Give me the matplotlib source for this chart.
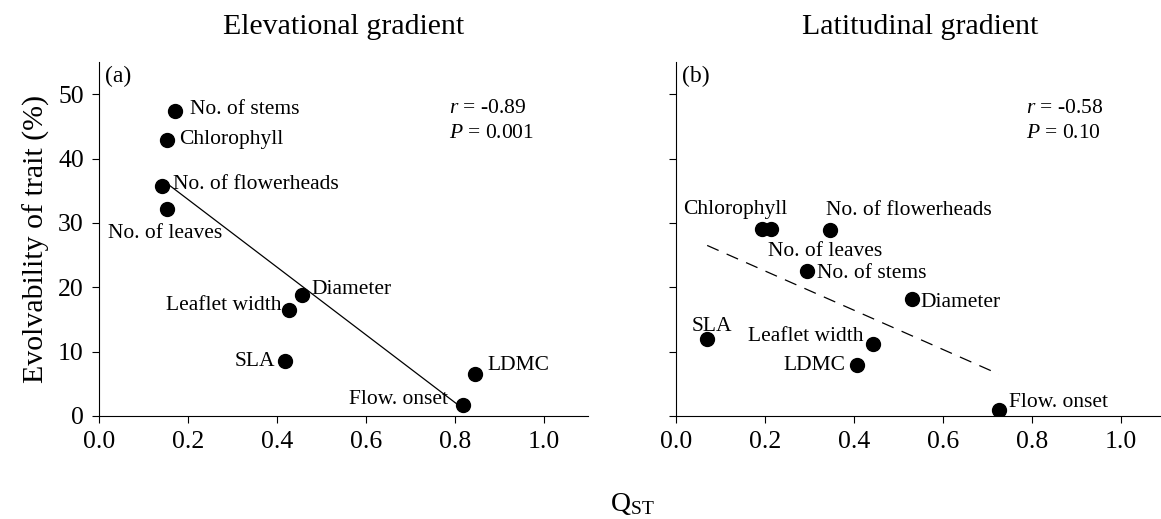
import matplotlib
matplotlib.use("Agg")
import matplotlib.pyplot as plt

plt.rcParams['font.family'] = ['Liberation Serif', 'DejaVu Serif']
plt.rcParams['mathtext.fontset'] = 'custom'
plt.rcParams['mathtext.rm'] = 'Liberation Serif'
plt.rcParams['mathtext.it'] = 'Liberation Serif:italic'

# (a) elevational gradient
elev_traits = ["No. of stems", "Chlorophyll", "No. of flowerheads", "No. of leaves",
               "Diameter", "Leaflet width", "SLA", "LDMC", "Flow. onset"]
elev_qst = [0.171, 0.152, 0.142, 0.154, 0.456, 0.427, 0.418, 0.845, 0.819]
elev_evol = [47.4, 42.9, 35.8, 32.1, 18.8, 16.5, 8.6, 6.5, 1.7]
elev_fit_x = [0.142, 0.81]
elev_fit_y = [36.7, 1.6]
elev_stats = ["$r$ = -0.89", "$P$ = 0.001"]

# (b) latitudinal gradient
lat_traits = ["Chlorophyll", "No. of leaves", "No. of flowerheads", "No. of stems",
              "Diameter", "SLA", "Leaflet width", "LDMC", "Flow. onset"]
lat_qst = [0.193, 0.214, 0.347, 0.295, 0.530, 0.070, 0.444, 0.408, 0.726]
lat_evol = [29.1, 29.1, 28.9, 22.5, 18.2, 11.9, 11.2, 7.9, 1.0]
lat_fit_x = [0.070, 0.726]
lat_fit_y = [26.5, 6.5]
lat_stats = ["$r$ = -0.58", "$P$ = 0.10"]

# label placement (x, y, ha) in data units
elev_lab = [(0.204, 47.6, 'left'), (0.180, 42.9, 'left'), (0.167, 35.9, 'left'),
            (0.020, 28.4, 'left'), (0.478, 19.6, 'left'), (0.411, 17.2, 'right'),
            (0.397, 8.5, 'right'), (0.873, 7.9, 'left'), (0.786, 2.5, 'right')]
lat_lab = [(0.016, 32.1, 'left'), (0.207, 25.6, 'left'), (0.337, 32.0, 'left'),
           (0.316, 22.2, 'left'), (0.550, 17.6, 'left'), (0.034, 13.9, 'left'),
           (0.421, 12.4, 'right'), (0.382, 7.9, 'right'), (0.748, 2.1, 'left')]

fig = plt.figure(figsize=(11.61, 5.19), dpi=100)
ax1 = fig.add_axes([0.0853, 0.1985, 0.4212, 0.682])
ax2 = fig.add_axes([0.5823, 0.1985, 0.4212, 0.682])

panels = [
    (ax1, elev_qst, elev_evol, elev_fit_x, elev_fit_y, elev_traits, elev_lab, elev_stats,
     "Elevational gradient", "(a)", '-'),
    (ax2, lat_qst, lat_evol, lat_fit_x, lat_fit_y, lat_traits, lat_lab, lat_stats,
     "Latitudinal gradient", "(b)", (0, (10, 7))),
]

for ax, q, ev, fx, fy, traits, lab, stats, title, tag, ls in panels:
    ax.scatter(q, ev, s=100, color='black', zorder=3)
    ax.plot(fx, fy, color='black', lw=0.9, linestyle=ls)
    for i in range(len(traits)):
        ax.text(lab[i][0], lab[i][1], traits[i], ha=lab[i][2], va='center', fontsize=15.5)
    ax.text(0.715, 0.868, stats[0], transform=ax.transAxes, fontsize=15.5, va='center')
    ax.text(0.715, 0.797, stats[1], transform=ax.transAxes, fontsize=15.5, va='center')
    ax.text(0.012, 0.958, tag, transform=ax.transAxes, fontsize=17, va='center')
    ax.set_xlim(0, 1.1)
    ax.set_ylim(0, 55)
    ax.set_xticks([0.0, 0.2, 0.4, 0.6, 0.8, 1.0])
    ax.set_xticklabels(["0.0", "0.2", "0.4", "0.6", "0.8", "1.0"])
    ax.set_yticks([0, 10, 20, 30, 40, 50])
    ax.spines['top'].set_visible(False)
    ax.spines['right'].set_visible(False)
    ax.tick_params(direction='out', length=5, labelsize=18.5, pad=6)
    ax.set_title(title, fontsize=21.5, pad=20)

ax2.set_yticklabels([])
ax1.set_ylabel("Evolvability of trait (%)", fontsize=21.5, labelpad=6)
fig.text(0.545, 0.016, r"Q$_{\mathrm{ST}}$", ha='center', va='baseline', fontsize=20)

fig.savefig("out.png", dpi=100)
